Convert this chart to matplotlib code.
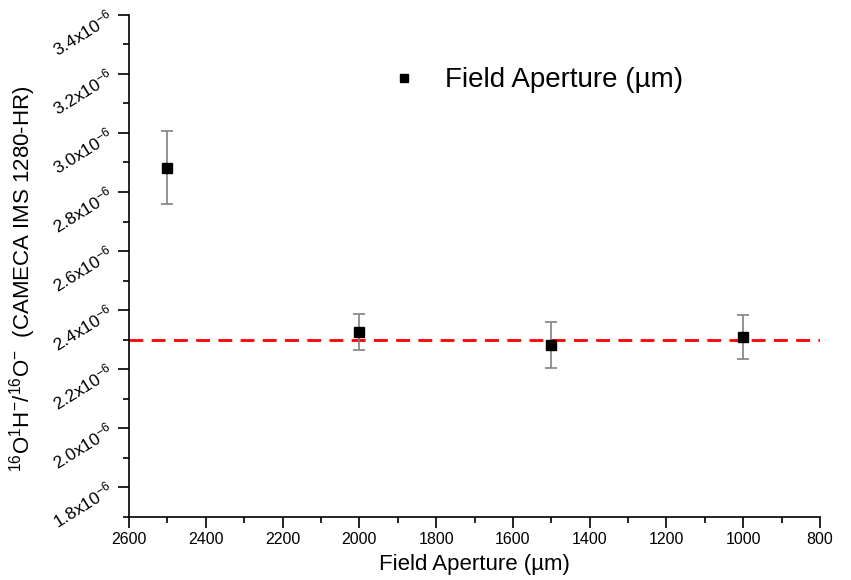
import numpy as np
import matplotlib.pyplot as plt
from matplotlib.lines import Line2D
from matplotlib.ticker import MultipleLocator, FuncFormatter

plt.rcParams["font.family"] = ["Liberation Sans", "DejaVu Sans"]
plt.rcParams["mathtext.fontset"] = "custom"
plt.rcParams["mathtext.rm"] = "Liberation Sans"
plt.rcParams["mathtext.it"] = "Liberation Sans:italic"

# data
aperture = [2500, 2000, 1500, 1000]
ratio = [2.882e-6, 2.326e-6, 2.282e-6, 2.310e-6]
ratio_err = [0.124e-6, 0.060e-6, 0.077e-6, 0.074e-6]
ref_value = 2.30e-6

fig = plt.figure(figsize=(8.51, 5.80), dpi=100)
ax = fig.add_axes([0.1516, 0.1086, 0.812, 0.866])

ax.errorbar(aperture, ratio, yerr=ratio_err, fmt='s', color='black',
            ms=7.5, ecolor='grey', elinewidth=1.2, capsize=4, capthick=1.2,
            zorder=3)
ax.axhline(ref_value, color='red', ls=(0, (5, 3)), lw=2, zorder=2)

ax.set_xlim(2600, 800)
ax.set_ylim(1.7e-6, 3.4e-6)
ax.xaxis.set_major_locator(MultipleLocator(200))
ax.xaxis.set_minor_locator(MultipleLocator(100))
ax.yaxis.set_major_locator(MultipleLocator(0.2e-6))
ax.yaxis.set_minor_locator(MultipleLocator(0.1e-6))

def sci_fmt(v, pos):
    return r"%.1fx10$^{-6}$" % (v * 1e6)

ax.yaxis.set_major_formatter(FuncFormatter(sci_fmt))
ax.tick_params(which='both', direction='out', width=1.2)
ax.tick_params(which='major', length=8, pad=3)
ax.tick_params(which='minor', length=4.5)
ax.tick_params(axis='x', labelsize=11.5)
ax.tick_params(axis='y', labelsize=12.5, pad=5)
for lbl in ax.get_yticklabels():
    lbl.set_rotation(32)
    lbl.set_rotation_mode('anchor')
    lbl.set_ha('right')
    lbl.set_va('center')

for s in ['top', 'right']:
    ax.spines[s].set_visible(False)
for s in ['left', 'bottom']:
    ax.spines[s].set_linewidth(1.2)

ax.set_xlabel('Field Aperture (µm)', fontsize=16, labelpad=5)
ax.set_ylabel(r'$^{16}$O$^{1}$H$^{-}$/$^{16}$O$^{-}$  (CAMECA IMS 1280-HR)',
              fontsize=16)
ax.yaxis.set_label_coords(-0.131, 0.474)

handle = Line2D([], [], marker='s', ls='none', color='black', ms=6)
ax.legend([handle], ['Field Aperture (µm)'], loc='upper left',
          bbox_to_anchor=(0.337, 0.945), frameon=False, fontsize=20,
          handletextpad=0.9, handlelength=1.2)

fig.savefig('out.png', dpi=100)
